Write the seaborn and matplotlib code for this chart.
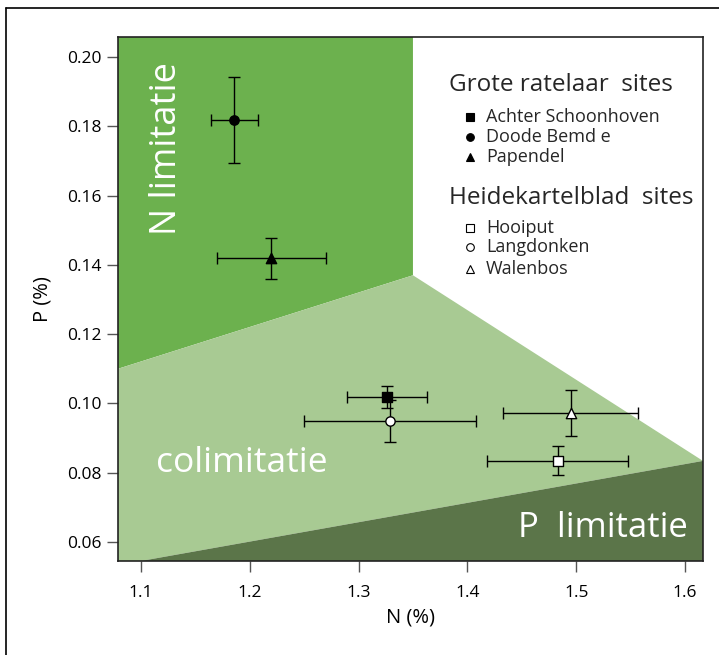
import matplotlib
matplotlib.use("Agg")
import matplotlib.pyplot as plt
from matplotlib.lines import Line2D
import seaborn as sns
import pandas as pd

# ---- data ----
sites = ["Achter Schoonhoven", "Doode Bemde", "Papendel", "Hooiput", "Langdonken", "Walenbos"]
legend_labels = ["Achter Schoonhoven", "Doode Bemd e", "Papendel", "Hooiput", "Langdonken", "Walenbos"]
groups = ["Grote ratelaar", "Grote ratelaar", "Grote ratelaar", "Heidekartelblad", "Heidekartelblad", "Heidekartelblad"]
n_mean = [1.326, 1.186, 1.220, 1.483, 1.329, 1.495]
n_err = [0.037, 0.022, 0.050, 0.065, 0.079, 0.062]
p_mean = [0.1018, 0.1818, 0.1419, 0.0835, 0.0950, 0.0972]
p_err = [0.0031, 0.0124, 0.0059, 0.0042, 0.0060, 0.0066]
markers = ["s", "o", "^", "s", "o", "^"]

# region boundaries (N %, P %)
x_lim = (1.079, 1.6165)
y_lim = (0.0545, 0.2058)
n_lim_N = [x_lim[0], 1.35, 1.35, x_lim[0]]
n_lim_P = [y_lim[1], y_lim[1], 0.137, 0.110]
co_lim_N = [x_lim[0], 1.35, x_lim[1], 1.10, x_lim[0]]
co_lim_P = [0.110, 0.137, 0.0834, y_lim[0], y_lim[0]]
p_lim_N = [1.10, x_lim[1], x_lim[1]]
p_lim_P = [y_lim[0], 0.0834, y_lim[0]]

x_ticks = [1.1, 1.2, 1.3, 1.4, 1.5, 1.6]
y_ticks = [0.06, 0.08, 0.10, 0.12, 0.14, 0.16, 0.18, 0.20]

sns.set_style("ticks")
plt.rcParams["font.family"] = ["Open Sans", "DejaVu Sans"]

df = pd.DataFrame({"site": sites, "group": groups, "N": n_mean, "P": p_mean,
                   "Nerr": n_err, "Perr": p_err, "marker": markers})

fig = plt.figure(figsize=(7.19, 6.55), dpi=100)
ax = fig.add_axes([118/719, 1 - 561/655, (703-118)/719, (561-37)/655])

ax.fill(n_lim_N, n_lim_P, color="#6cb14e", lw=0, zorder=0)
ax.fill(co_lim_N, co_lim_P, color="#a8ca93", lw=0, zorder=0)
ax.fill(p_lim_N, p_lim_P, color="#5b7549", lw=0, zorder=0)

for _, r in df.iterrows():
    ax.errorbar(r["N"], r["P"], xerr=r["Nerr"], yerr=r["Perr"], fmt="none",
                ecolor="black", elinewidth=1, capsize=4.5, capthick=1, zorder=2)
for _, r in df.iterrows():
    filled = r["group"] == "Grote ratelaar"
    sz = 55 if r["marker"] == "^" else 45
    sns.scatterplot(x=[r["N"]], y=[r["P"]], marker=r["marker"], s=sz,
                    color="black" if filled else "white", edgecolor="black",
                    linewidth=1, ax=ax, zorder=3, legend=False)

ax.set_xlim(*x_lim)
ax.set_ylim(*y_lim)
ax.set_xticks(x_ticks)
ax.set_xticklabels([f"{v:.1f}" for v in x_ticks])
ax.set_yticks(y_ticks)
ax.set_yticklabels([f"{v:.2f}" for v in y_ticks])
ax.tick_params(axis="both", length=8, width=1, color="#555555", labelsize=12.5,
               pad=4, labelcolor="black")
ax.tick_params(axis="x", pad=9)
for s in ax.spines.values():
    s.set_color("#222222")
    s.set_linewidth(1.2)
    s.set_visible(True)
ax.set_xlabel("N (%)", fontsize=14.5, labelpad=5, color="black")
ax.set_ylabel("P (%)", fontsize=14.5, labelpad=10, color="black")

ax.text(1.124, 0.1735, "N limitatie", rotation=90, color="white", fontsize=26,
        ha="center", va="center")
ax.text(1.193, 0.0828, "colimitatie", color="white", fontsize=25.5,
        ha="center", va="center")
ax.text(1.525, 0.0641, "P  limitatie", color="white", fontsize=25,
        ha="center", va="center")

# legend (manual)
def fx(px):
    return px / 719
def fy(py):
    return 1 - py / 655

fig.text(fx(449), fy(85), "Grote ratelaar  sites", fontsize=17.5, va="center", ha="left")
fig.text(fx(449), fy(198), "Heidekartelblad  sites", fontsize=17.5, va="center", ha="left")
rows_y = [116.7, 136.7, 156.7, 227.7, 247.3, 268.5]
for lab, mk, grp, yy in zip(legend_labels, markers, groups, rows_y):
    filled = grp == "Grote ratelaar"
    fig.add_artist(Line2D([fx(470)], [fy(yy)], marker=mk, markersize=6 if mk != "o" else 5.5,
                          markerfacecolor="black" if filled else "white",
                          markeredgecolor="black", markeredgewidth=0.8, linestyle="none"))
    fig.text(fx(486), fy(yy), lab, fontsize=13, va="center", ha="left")

# outer frame (top and left edges)
fig.add_artist(Line2D([6/719, 6/719], [0, fy(8)], color="black", lw=1.2))
fig.add_artist(Line2D([6/719, 1], [fy(8), fy(8)], color="black", lw=1.2))

fig.savefig("out.png", dpi=100)
